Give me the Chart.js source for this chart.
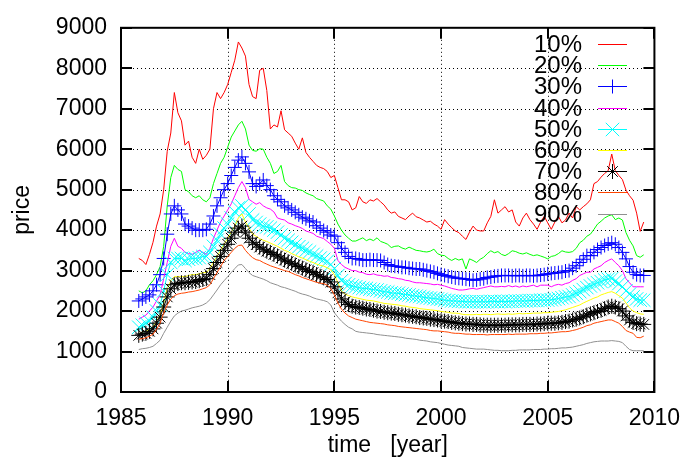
<!DOCTYPE html>
<html>
<head>
<meta charset="utf-8">
<script src="https://cdn.jsdelivr.net/npm/chart.js@4.4.1/dist/chart.umd.min.js"></script>
<style>
  html, body { margin: 0; padding: 0; background: #fff; }
</style>
</head>
<body>
<canvas id="chart" width="693" height="457"></canvas>
<script>
// one sample every two months, Nov 1985 .. Jul 2009
const times = Array.from({ length: 143 }, (_, i) => 1985 + 10 / 12 + i / 6);

const seriesNames = ['10%', '20%', '30%', '40%', '50%', '60%', '70%', '80%', '90%'];

// rows: first sample, then one row per year 1986..2008, then 2009
const p10 = [3300,
  3250, 3150, 3400, 3700, 4100, 4400,
  5000, 5950, 6400, 7400, 6900, 6700,
  6100, 6200, 5800, 5650, 6000, 5750,
  5850, 6000, 7000, 7400, 7250, 7400,
  7600, 7900, 8200, 8650, 8500, 8300,
  7600, 7300, 7250, 7950, 8000, 7450,
  6500, 6600, 6550, 6950, 6480, 6400,
  6320, 6150, 6000, 6280, 5920, 5800,
  5700, 5600, 5550, 5520, 5450, 5300,
  5350, 5050, 4750, 4750, 4700, 4500,
  4550, 4830, 4700, 4660, 4750, 4720,
  4780, 4700, 4620, 4500, 4420, 4450,
  4340, 4300, 4260, 4350, 4420, 4330,
  4300, 4250, 4200, 4220, 4150, 4100,
  4020, 4260, 4150, 4060, 3980, 3940,
  3850, 3770, 3950, 4100, 4000, 3980,
  3980, 4180, 4340, 4750, 4420, 4500,
  4580, 4450, 4500, 4200, 4100, 4300,
  4420, 4260, 4150, 4020, 4200, 4340,
  4180, 4020, 4200, 4340, 4180, 4250,
  4420, 4300, 4580, 4500, 4580, 4650,
  4750, 5150, 5200, 5310, 5400, 5470,
  5880, 5470, 5350, 5250, 4990, 4850,
  4740, 4420, 3970, 4200];

const p20 = [2500,
  2450, 2500, 2650, 2750, 2900, 3100,
  3600, 4600, 5300, 5600, 5500, 5450,
  5000, 4950, 4850, 4800, 4850, 4750,
  4700, 4800, 5150, 5400, 5650, 5800,
  6050, 6300, 6450, 6600, 6690, 6500,
  6100, 5970, 5950, 6010, 6000, 5800,
  5650, 5400, 5450, 5600, 5200, 5100,
  5050, 5040, 5000, 4980, 4920, 4880,
  4850, 4780, 4750, 4720, 4600, 4520,
  4350, 4150, 4000, 3880, 3800, 3730,
  3730, 3770, 3810, 3740, 3780, 3740,
  3810, 3720, 3690, 3650, 3570, 3600,
  3610, 3560, 3530, 3580, 3540, 3500,
  3490, 3470, 3460, 3480, 3530, 3420,
  3380, 3370, 3300, 3250, 3300, 3260,
  3290, 3040, 3290, 3250, 3200, 3280,
  3330, 3420, 3490, 3440, 3470, 3400,
  3370, 3420, 3490, 3470, 3430, 3410,
  3440, 3400, 3370, 3390, 3360, 3330,
  3290, 3350, 3370, 3420, 3490, 3460,
  3450, 3470, 3550, 3690, 3750, 3850,
  3900, 4020, 4150, 4220, 4300, 4350,
  4380, 4260, 4300, 4250, 3940, 3750,
  3610, 3370, 3330, 3390];

const p30 = [2250,
  2300, 2350, 2400, 2500, 2650, 2900,
  3300, 3900, 4400, 4600, 4500, 4400,
  4150, 4100, 4050, 4000, 4000, 4000,
  4020, 4150, 4350, 4600, 4800, 5000,
  5150, 5350, 5550, 5730, 5810, 5650,
  5440, 5150, 5080, 5150, 5240, 5100,
  5000, 4850, 4760, 4700, 4600, 4550,
  4500, 4440, 4380, 4320, 4280, 4230,
  4200, 4110, 4050, 3990, 3950, 3880,
  3850, 3690, 3550, 3450, 3350, 3300,
  3300, 3280, 3260, 3260, 3270, 3260,
  3260, 3250, 3200, 3150, 3120, 3110,
  3100, 3080, 3080, 3060, 3050, 3040,
  3040, 3020, 3000, 2980, 2960, 2930,
  2900, 2880, 2860, 2840, 2820, 2810,
  2800, 2790, 2780, 2760, 2770, 2790,
  2800, 2830, 2840, 2860, 2870, 2880,
  2880, 2880, 2870, 2880, 2880, 2870,
  2880, 2880, 2870, 2880, 2890, 2900,
  2920, 2930, 2940, 2950, 2960, 2990,
  3000, 3060, 3120, 3200, 3280, 3370,
  3370, 3450, 3520, 3570, 3620, 3660,
  3690, 3650, 3570, 3450, 3290, 3100,
  2960, 2900, 2880, 2880];

const p40 = [1800,
  1850, 1900, 2000, 2100, 2250, 2400,
  2800, 3200, 3600, 3800, 3600, 3550,
  3450, 3420, 3400, 3450, 3500, 3450,
  3400, 3550, 3800, 4000, 4200, 4350,
  4500, 4650, 4850, 5050, 5200, 5050,
  4760, 4700, 4640, 4680, 4600, 4550,
  4520, 4450, 4300, 4270, 4250, 4180,
  4150, 4110, 4080, 4040, 3980, 3950,
  3920, 3850, 3820, 3790, 3720, 3650,
  3550, 3250, 3150, 3080, 3040, 3000,
  3000, 2960, 2950, 2910, 2900, 2920,
  2890, 2880, 2860, 2870, 2830, 2820,
  2800, 2790, 2760, 2750, 2720, 2700,
  2700, 2690, 2680, 2670, 2650, 2660,
  2640, 2620, 2590, 2560, 2540, 2520,
  2520, 2530, 2550, 2560, 2540, 2560,
  2580, 2600, 2620, 2600, 2600, 2610,
  2600, 2630, 2600, 2620, 2590, 2620,
  2600, 2620, 2640, 2600, 2640, 2640,
  2640, 2600, 2640, 2660, 2640, 2680,
  2700, 2760, 2800, 2880, 2920, 2960,
  2960, 3040, 3080, 3120, 3200, 3250,
  3290, 3200, 3120, 3000, 2800, 2700,
  2600, 2600, 2600, 2600];

const p50 = [1600,
  1650, 1700, 1750, 1850, 2000, 2150,
  2500, 2900, 3200, 3300, 3300, 3300,
  3250, 3280, 3300, 3300, 3320, 3350,
  3350, 3450, 3600, 3750, 3900, 4050,
  4150, 4300, 4450, 4550, 4600, 4500,
  4400, 4250, 4190, 4150, 4100, 4080,
  4050, 4000, 3950, 3880, 3800, 3750,
  3700, 3640, 3590, 3550, 3500, 3460,
  3400, 3360, 3310, 3280, 3230, 3150,
  3050, 2880, 2750, 2680, 2650, 2620,
  2600, 2580, 2560, 2560, 2540, 2530,
  2520, 2500, 2480, 2470, 2450, 2440,
  2440, 2420, 2410, 2400, 2380, 2370,
  2360, 2340, 2330, 2320, 2310, 2300,
  2290, 2270, 2260, 2250, 2250, 2240,
  2240, 2230, 2230, 2230, 2230, 2230,
  2230, 2230, 2240, 2240, 2230, 2240,
  2230, 2240, 2240, 2250, 2250, 2250,
  2250, 2260, 2260, 2260, 2270, 2270,
  2270, 2280, 2290, 2310, 2330, 2350,
  2360, 2400, 2440, 2480, 2530, 2580,
  2620, 2660, 2700, 2730, 2770, 2790,
  2800, 2740, 2680, 2600, 2500, 2420,
  2350, 2300, 2270, 2270];

const p60 = [1450,
  1480, 1500, 1550, 1620, 1750, 1900,
  2200, 2550, 2750, 2850, 2850, 2850,
  2850, 2880, 2900, 2900, 2920, 2950,
  2950, 3050, 3200, 3350, 3500, 3650,
  3800, 3950, 4100, 4300, 4400, 4200,
  4050, 3900, 3850, 3790, 3750, 3720,
  3680, 3640, 3600, 3550, 3500, 3470,
  3420, 3380, 3340, 3310, 3270, 3230,
  3200, 3160, 3130, 3110, 3070, 3020,
  2900, 2700, 2500, 2420, 2380, 2350,
  2330, 2310, 2290, 2270, 2260, 2250,
  2230, 2210, 2190, 2180, 2170, 2160,
  2150, 2130, 2120, 2100, 2090, 2080,
  2060, 2050, 2040, 2030, 2020, 2010,
  1990, 1980, 1970, 1950, 1950, 1940,
  1920, 1910, 1910, 1910, 1920, 1910,
  1920, 1920, 1910, 1920, 1930, 1920,
  1920, 1930, 1920, 1930, 1940, 1930,
  1940, 1940, 1950, 1950, 1950, 1960,
  1960, 1970, 1980, 1990, 2010, 2030,
  2060, 2090, 2120, 2150, 2200, 2240,
  2280, 2320, 2350, 2400, 2430, 2460,
  2480, 2440, 2380, 2320, 2200, 2080,
  2000, 1960, 1930, 1920];

const p70 = [1400,
  1430, 1450, 1500, 1560, 1700, 1850,
  2100, 2350, 2550, 2650, 2680, 2700,
  2700, 2710, 2720, 2730, 2750, 2780,
  2800, 2900, 3050, 3200, 3350, 3500,
  3650, 3800, 3950, 4050, 4100, 3950,
  3800, 3700, 3640, 3580, 3530, 3480,
  3450, 3400, 3360, 3310, 3260, 3220,
  3180, 3140, 3100, 3060, 3020, 2980,
  2950, 2900, 2860, 2820, 2780, 2720,
  2600, 2450, 2300, 2220, 2160, 2120,
  2100, 2090, 2070, 2050, 2040, 2020,
  2000, 1990, 1970, 1960, 1950, 1940,
  1920, 1910, 1900, 1880, 1870, 1860,
  1840, 1830, 1820, 1800, 1790, 1780,
  1760, 1750, 1740, 1720, 1710, 1700,
  1690, 1680, 1680, 1670, 1670, 1660,
  1650, 1650, 1650, 1650, 1650, 1650,
  1650, 1660, 1660, 1660, 1660, 1670,
  1670, 1670, 1670, 1680, 1680, 1690,
  1700, 1700, 1700, 1710, 1720, 1740,
  1750, 1780, 1800, 1830, 1860, 1900,
  1930, 1960, 1990, 2020, 2060, 2100,
  2120, 2100, 2060, 2000, 1880, 1780,
  1720, 1690, 1680, 1670];

const p80 = [1300,
  1320, 1340, 1380, 1430, 1550, 1700,
  1950, 2150, 2300, 2380, 2420, 2440,
  2450, 2470, 2480, 2500, 2520, 2550,
  2580, 2650, 2800, 2950, 3100, 3250,
  3350, 3450, 3550, 3620, 3630, 3500,
  3400, 3320, 3270, 3250, 3200, 3160,
  3120, 3090, 3060, 3030, 3000, 2980,
  2940, 2900, 2870, 2830, 2800, 2770,
  2740, 2710, 2690, 2680, 2640, 2560,
  2400, 2200, 2050, 1950, 1880, 1840,
  1800, 1780, 1760, 1740, 1720, 1710,
  1700, 1690, 1680, 1660, 1650, 1640,
  1620, 1610, 1600, 1590, 1580, 1570,
  1560, 1550, 1540, 1520, 1510, 1510,
  1500, 1490, 1480, 1460, 1450, 1450,
  1440, 1430, 1430, 1420, 1420, 1420,
  1420, 1410, 1420, 1420, 1420, 1420,
  1420, 1430, 1420, 1430, 1430, 1430,
  1430, 1440, 1440, 1440, 1450, 1450,
  1460, 1460, 1470, 1480, 1490, 1490,
  1500, 1520, 1540, 1570, 1600, 1640,
  1660, 1700, 1720, 1740, 1760, 1780,
  1780, 1740, 1700, 1620, 1520, 1480,
  1450, 1350, 1340, 1380];

const p90 = [1050,
  1070, 1080, 1100, 1130, 1200, 1280,
  1450, 1600, 1750, 1880, 1950, 2000,
  2020, 2050, 2080, 2100, 2120, 2150,
  2200, 2280, 2400, 2520, 2650, 2750,
  2850, 2950, 3050, 3140, 3150, 3050,
  2950, 2880, 2850, 2820, 2790, 2750,
  2700, 2670, 2640, 2600, 2580, 2550,
  2520, 2490, 2450, 2420, 2400, 2370,
  2330, 2300, 2280, 2260, 2230, 2150,
  1960, 1850, 1750, 1670, 1600, 1560,
  1500, 1480, 1470, 1460, 1450, 1440,
  1420, 1410, 1400, 1390, 1380, 1370,
  1360, 1350, 1330, 1320, 1310, 1300,
  1280, 1270, 1260, 1240, 1230, 1220,
  1200, 1180, 1160, 1150, 1140, 1130,
  1100, 1090, 1080, 1070, 1060, 1060,
  1060, 1050, 1040, 1030, 1030, 1020,
  1020, 1020, 1030, 1030, 1040, 1040,
  1040, 1040, 1050, 1050, 1050, 1060,
  1060, 1070, 1070, 1080, 1090, 1090,
  1100, 1110, 1130, 1150, 1170, 1200,
  1220, 1240, 1250, 1260, 1260, 1260,
  1270, 1260, 1250, 1220, 1130, 1050,
  1020, 1020, 1020, 1020];

const seriesValues = [p10, p20, p30, p40, p50, p60, p70, p80, p90];

// styles
const lineColors = ['#ff0000', '#00ff00', '#0000ff', '#ff00ff', '#00ffff', '#ffff00', '#000000', '#ff4500', '#909090'];
const markers = [false, false, 'cross', false, 'crossRot', false, 'star', false, false];
const markerSize = { cross: 7, crossRot: 9.5, star: 7.5 };

const FONT = 'Liberation Sans, Arial, sans-serif';
Chart.defaults.font.family = FONT;
Chart.defaults.color = '#000';

const datasets = seriesNames.map((name, i) => ({
  label: name,
  data: seriesValues[i].map((v, k) => ({ x: times[k], y: v })),
  borderColor: lineColors[i],
  backgroundColor: lineColors[i],
  borderWidth: 1,
  pointStyle: markers[i] || 'circle',
  pointRadius: markers[i] ? markerSize[markers[i]] : 0,
  pointBorderWidth: 1,
  pointBorderColor: lineColors[i],
  tension: 0,
  fill: false,
  order: seriesNames.length - i   // later percentiles drawn on top
}));

// dotted grid, plot frame and inward tics, gnuplot style
const framePlugin = {
  id: 'framePlugin',
  beforeDatasetsDraw(chart) {
    const { ctx, chartArea: a, scales: { x, y } } = chart;
    ctx.save();
    ctx.strokeStyle = '#000';
    ctx.lineWidth = 1;
    ctx.setLineDash([1, 3]);
    ctx.beginPath();
    x.ticks.forEach(t => {
      if (t.value <= x.min || t.value >= x.max) return;
      const px = Math.round(x.getPixelForValue(t.value)) + 0.5;
      ctx.moveTo(px, a.top); ctx.lineTo(px, a.bottom);
    });
    y.ticks.forEach(t => {
      if (t.value <= y.min || t.value >= y.max) return;
      const py = Math.round(y.getPixelForValue(t.value)) + 0.5;
      ctx.moveTo(a.left, py); ctx.lineTo(a.right, py);
    });
    ctx.stroke();
    ctx.restore();
  },
  afterDatasetsDraw(chart) {
    const { ctx, chartArea: a, scales: { x, y } } = chart;
    const len = 11;
    ctx.save();
    ctx.strokeStyle = '#000';
    ctx.lineWidth = 2;
    ctx.beginPath();
    x.ticks.forEach(t => {
      const px = Math.round(x.getPixelForValue(t.value));
      ctx.moveTo(px, a.bottom); ctx.lineTo(px, a.bottom - len);
      ctx.moveTo(px, a.top); ctx.lineTo(px, a.top + len);
    });
    y.ticks.forEach(t => {
      const py = Math.round(y.getPixelForValue(t.value));
      ctx.moveTo(a.left, py); ctx.lineTo(a.left + len, py);
      ctx.moveTo(a.right, py); ctx.lineTo(a.right - len, py);
    });
    ctx.stroke();
    ctx.strokeRect(a.left, a.top, a.right - a.left, a.bottom - a.top);
    ctx.restore();
  }
};

// key in the top right corner, drawn inside the plot
const keyPlugin = {
  id: 'keyPlugin',
  afterDraw(chart) {
    const { ctx } = chart;
    const textRight = 582, sx0 = 598, sx1 = 627, top = 44, step = 21.2;
    ctx.save();
    ctx.font = '24px ' + FONT;
    ctx.textAlign = 'right';
    ctx.textBaseline = 'middle';
    chart.data.datasets.forEach((ds, i) => {
      const yy = Math.round(top + i * step) + 0.5;
      ctx.fillStyle = '#000';
      ctx.fillText(ds.label, textRight, yy + 1);
      ctx.strokeStyle = ds.borderColor;
      ctx.fillStyle = ds.borderColor;
      ctx.lineWidth = 1;
      ctx.beginPath();
      ctx.moveTo(sx0, yy);
      ctx.lineTo(sx1, yy);
      ctx.stroke();
      if (markers[i]) {
        Chart.helpers.drawPoint(ctx, {
          pointStyle: markers[i], radius: markerSize[markers[i]], rotation: 0, borderWidth: 1
        }, (sx0 + sx1) / 2, yy);
      }
    });
    ctx.restore();
  }
};

new Chart(document.getElementById('chart'), {
  type: 'line',
  data: { datasets },
  options: {
    responsive: false,
    animation: false,
    devicePixelRatio: 1,
    layout: { padding: { left: 0, right: 35, top: 22, bottom: 0 } },
    plugins: { legend: { display: false }, tooltip: { enabled: false } },
    scales: {
      x: {
        type: 'linear',
        min: 1985, max: 2010,
        ticks: { stepSize: 5, padding: 13, font: { size: 23 }, color: '#000', maxRotation: 0,
          callback: v => String(v) },
        grid: { display: false, drawTicks: false },
        border: { display: false },
        title: { display: true, text: 'time   [year]', font: { size: 23 }, color: '#000',
          padding: { top: 0, bottom: -2 } },
        afterFit: s => { s.height = 65; }
      },
      y: {
        type: 'linear',
        min: 0, max: 9000,
        ticks: { stepSize: 1000, padding: 14, font: { size: 23 }, color: '#000',
          callback: v => String(v) },
        grid: { display: false, drawTicks: false },
        border: { display: false },
        title: { display: true, text: 'price', font: { size: 23 }, color: '#000',
          padding: { top: 9, bottom: 0 } },
        afterFit: s => { s.width = 121; }
      }
    }
  },
  plugins: [framePlugin, keyPlugin]
});
</script>
</body>
</html>
